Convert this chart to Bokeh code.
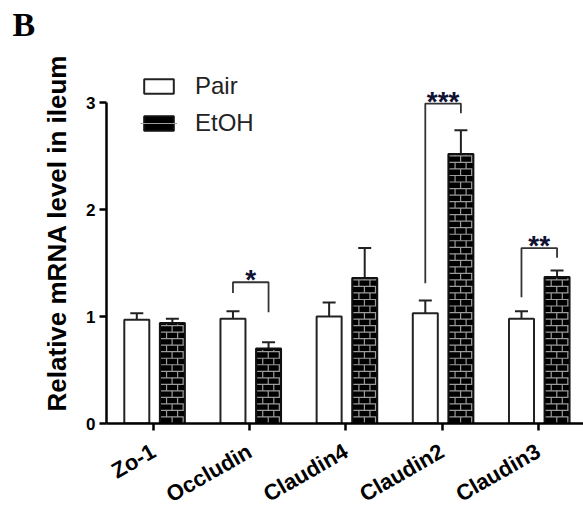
from bokeh.plotting import figure
from bokeh.models import (ColumnDataSource, Range1d, FixedTicker, Whisker, TeeHead,
                          Legend, LegendItem, Title)
from bokeh.core.properties import value
from bokeh.embed import file_html
from bokeh.resources import INLINE

# ---------------- data ----------------
categories = ["Zo-1", "Occludin", "Claudin4", "Claudin2", "Claudin3"]
pair = [0.97, 0.98, 1.00, 1.03, 0.98]
pair_err = [0.06, 0.07, 0.13, 0.12, 0.07]
etoh = [0.94, 0.70, 1.36, 2.52, 1.37]
etoh_err = [0.04, 0.06, 0.28, 0.22, 0.06]

sig_index = [1, 3, 4]
sig_labels = ["*", "***", "**"]
bracket_top = [1.32, 2.99, 1.64]
bracket_left_end = [1.22, 1.31, 1.18]
bracket_right_end = [1.04, 2.90, 1.55]

y_ticks = [0, 1, 2, 3]

# ---------------- figure ----------------
PAIR_OFF, ETOH_OFF, BAR_W = -0.175, 0.195, 0.26
BRICK_H, BRICK_W, INSET = 0.061, 0.115, 0.012
xs = list(range(len(categories)))

p = figure(width=583, height=520, output_backend="svg", toolbar_location=None,
           x_range=Range1d(-0.49, 4.47), y_range=Range1d(0, 3.561),
           min_border_left=106, min_border_right=0, min_border_top=42,
           min_border_bottom=97)
p.background_fill_color = "white"
p.border_fill_color = "white"
p.outline_line_color = None
p.grid.visible = False

p.title = Title(text="B", align="left", offset=-94, standoff=0,
                text_font="Liberation Serif", text_font_size="34px",
                text_font_style="bold", text_color="black")

src = ColumnDataSource(dict(
    xp=[x + PAIR_OFF for x in xs], xe=[x + ETOH_OFF for x in xs],
    pair=pair, etoh=etoh,
    pair_hi=[a + b for a, b in zip(pair, pair_err)],
    etoh_hi=[a + b for a, b in zip(etoh, etoh_err)],
))

r_pair = p.vbar(x="xp", top="pair", width=BAR_W, bottom=0, source=src,
                fill_color="white", line_color="#222222", line_width=2)
r_etoh = p.vbar(x="xe", top="etoh", width=BAR_W, bottom=0, source=src,
                fill_color="black", line_color="#111111", line_width=2)

# brick pattern inside the EtOH bars, derived from each bar's extent
bx0, by0, bx1, by1 = [], [], [], []
for i, t in zip(xs, etoh):
    left = i + ETOH_OFF - BAR_W / 2 + INSET
    right = i + ETOH_OFF + BAR_W / 2 - INSET
    top = t - INSET
    k = 0
    while k * BRICK_H < top:
        ylo = k * BRICK_H
        yhi = min((k + 1) * BRICK_H, top)
        if k > 0:
            bx0.append(left); bx1.append(right); by0.append(ylo); by1.append(ylo)
        xv = left + (k % 2) * BRICK_W / 2
        if k % 2 == 0:
            xv += BRICK_W
        while xv < right - 0.005:
            bx0.append(xv); bx1.append(xv); by0.append(ylo); by1.append(yhi)
            xv += BRICK_W
        k += 1
r_brick = p.segment(x0=bx0, y0=by0, x1=bx1, y1=by1, line_color="#9c9c9c", line_width=1.2)

for xcol, lo, hi in (("xp", "pair", "pair_hi"), ("xe", "etoh", "etoh_hi")):
    w = Whisker(base=xcol, lower=lo, upper=hi, source=src, line_width=2,
                line_color="#222222", lower_head=None,
                upper_head=TeeHead(size=13, line_width=2, line_color="#222222"))
    p.add_layout(w)

# significance brackets
bx_l = [i + PAIR_OFF for i in sig_index]
bx_r = [i + ETOH_OFF for i in sig_index]
p.multi_line(xs=[[a, a, b, b] for a, b in zip(bx_l, bx_r)],
             ys=[[l, t, t, r] for l, t, r in zip(bracket_left_end, bracket_top, bracket_right_end)],
             line_color="#333333", line_width=1.8)
p.text(x=[(a + b) / 2 for a, b in zip(bx_l, bx_r)],
       y=[t + 0.08 for t in bracket_top], text=sig_labels,
       text_font=value("Liberation Sans"), text_font_style="bold",
       text_font_size="28px", text_align="center", text_baseline="alphabetic",
       y_offset=6, text_color="#111133")

# legend
legend = Legend(items=[LegendItem(label="Pair", renderers=[r_pair]),
                       LegendItem(label="EtOH", renderers=[r_etoh, r_brick])],
                location=(34, 286), glyph_width=37, glyph_height=18,
                label_height=28, label_standoff=18, spacing=9, padding=0,
                margin=0, background_fill_alpha=0, border_line_color=None,
                label_text_font="Liberation Sans", label_text_font_size="24px",
                label_text_color="#222222")
p.add_layout(legend)

# axes
yax = p.yaxis[0]
yax.ticker = FixedTicker(ticks=y_ticks)
yax.bounds = (0, 3)
yax.axis_label = "Relative mRNA level in ileum"
yax.axis_label_text_font = "Liberation Sans"
yax.axis_label_text_font_style = "bold"
yax.axis_label_text_font_size = "26px"
yax.axis_label_text_color = "black"
yax.axis_label_standoff = 11
yax.major_label_text_font = "Liberation Sans"
yax.major_label_text_font_style = "bold"
yax.major_label_text_font_size = "17px"
yax.major_label_text_color = "black"
yax.major_label_standoff = 4
yax.minor_tick_line_color = None

xax = p.xaxis[0]
xax.ticker = FixedTicker(ticks=xs)
xax.major_label_overrides = {i: c for i, c in zip(xs, categories)}
xax.major_label_orientation = 0.52
xax.major_label_text_font = "Liberation Sans"
xax.major_label_text_font_style = "bold"
xax.major_label_text_font_size = "22px"
xax.major_label_text_color = "black"
xax.major_label_standoff = 19
xax.minor_tick_line_color = None

for ax in (xax, yax):
    ax.axis_line_width = 2.5
    ax.axis_line_color = "black"
    ax.major_tick_line_width = 2.5
    ax.major_tick_line_color = "black"
    ax.major_tick_in = 0
    ax.major_tick_out = 7

open("out.html", "w").write(file_html(p, INLINE))
